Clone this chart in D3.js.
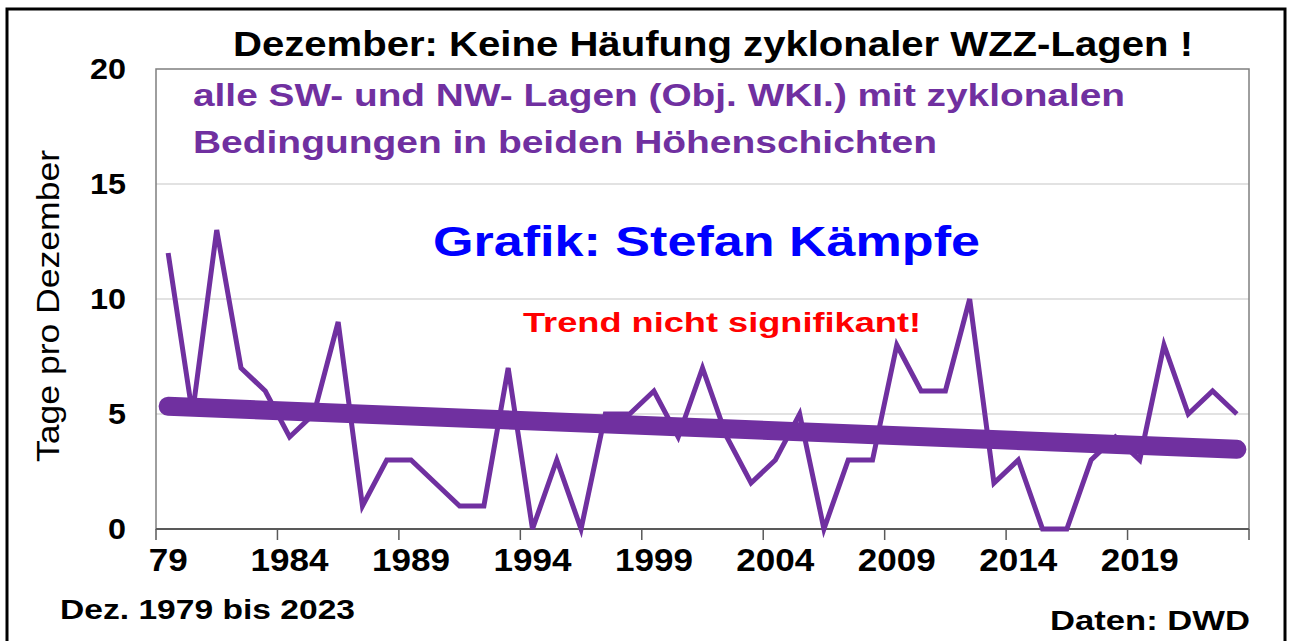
<!DOCTYPE html>
<html>
<head>
<meta charset="utf-8">
<script src="https://cdn.jsdelivr.net/npm/d3@7"></script>
<style>
  body { margin: 0; background: #fff; }
  text { font-family: "Liberation Sans", Arial, sans-serif; }
</style>
</head>
<body>
<div class="canvas"></div>
<script>
const WIDTH = 1290;
const HEIGHT = 641;
const margin = { top: 69, right: 41, bottom: 112, left: 156 };
const graphWidth = WIDTH - margin.left - margin.right;
const graphHeight = HEIGHT - margin.top - margin.bottom;

// data
const years = d3.range(1979, 2024);
const days = [12, 5, 13, 7, 6, 4, 5, 9, 1, 3,
              3, 2, 1, 1, 7, 0, 3, 0, 5, 5,
              6, 4, 7, 4, 2, 3, 5, 0, 3, 3,
              8, 6, 6, 10, 2, 3, 0, 0, 3, 4,
              3, 8, 5, 6, 5];
const tickYears = [1979, 1984, 1989, 1994, 1999, 2004, 2009, 2014, 2019];
const tickLabels = ['79', '1984', '1989', '1994', '1999', '2004', '2009', '2014', '2019'];
const yTicks = [0, 5, 10, 15, 20];

const data = years.map((yr, i) => ({ year: yr, value: days[i] }));

// colors
const purple = '#7030a0';
const gridGray = '#d9d9d9';
const axisGray = '#595959';

const svg = d3.select('.canvas')
  .append('svg')
    .attr('width', WIDTH)
    .attr('height', HEIGHT);

// helper for the (horizontally stretched) bold labels
const label = (sel, txt, opts) => {
  const t = sel.append('text')
    .attr('x', opts.x).attr('y', opts.y)
    .attr('font-size', opts.size)
    .attr('font-weight', opts.weight || 'bold')
    .attr('fill', opts.fill || '#000')
    .attr('text-anchor', opts.anchor || 'start')
    .text(txt);
  if (opts.len) t.attr('textLength', opts.len).attr('lengthAdjust', 'spacingAndGlyphs');
  return t;
};

// outer frame
svg.append('rect')
  .attr('x', 7).attr('y', 9)
  .attr('width', 1278).attr('height', HEIGHT)
  .attr('fill', 'none')
  .attr('stroke', '#000')
  .attr('stroke-width', 3);

const graph = svg.append('g')
  .attr('transform', `translate(${margin.left}, ${margin.top})`);

// scales
const x = d3.scaleBand()
  .domain(years)
  .range([0, graphWidth])
  .padding(0);

const y = d3.scaleLinear()
  .domain([0, 20])
  .range([graphHeight, 0]);

const cx = d => x(d) + x.bandwidth() / 2;

// gridlines
graph.append('g')
  .selectAll('line')
  .data(yTicks.filter(t => t > 0 && t < 20))
  .enter().append('line')
    .attr('x1', 0).attr('x2', graphWidth)
    .attr('y1', d => y(d)).attr('y2', d => y(d))
    .attr('stroke', gridGray)
    .attr('stroke-width', 1.5);

// plot frame
graph.append('rect')
  .attr('width', graphWidth)
  .attr('height', graphHeight)
  .attr('fill', 'none')
  .attr('stroke', '#7f7f7f')
  .attr('stroke-width', 1.5);

// x axis
const xAxisGroup = graph.append('g')
  .attr('transform', `translate(0, ${graphHeight})`);

xAxisGroup.append('line')
  .attr('x1', 0).attr('x2', graphWidth)
  .attr('stroke', axisGray).attr('stroke-width', 2);

const tickPos = tickYears.map(t => x(t)).concat([graphWidth]);
xAxisGroup.selectAll('.tick')
  .data(tickPos)
  .enter().append('line')
    .attr('x1', d => d).attr('x2', d => d)
    .attr('y1', 0).attr('y2', 11)
    .attr('stroke', axisGray).attr('stroke-width', 1.5);

tickYears.forEach((yr, i) => {
  label(xAxisGroup, tickLabels[i], {
    x: cx(yr), y: 42, size: 31, anchor: 'middle', len: 19.5 * tickLabels[i].length
  });
});

// y axis labels
yTicks.forEach(t => {
  label(graph, t, {
    x: -30, y: y(t) + 10, size: 29, anchor: 'end', len: 18 * String(t).length
  });
});

// data line
const line = d3.line()
  .x(d => cx(d.year))
  .y(d => y(d.value));

graph.append('path')
  .datum(data)
  .attr('fill', 'none')
  .attr('stroke', purple)
  .attr('stroke-width', 5)
  .attr('stroke-linejoin', 'miter')
  .attr('d', line);

// linear trend
const mx = d3.mean(data, d => d.year);
const my = d3.mean(data, d => d.value);
const slope = d3.sum(data, d => (d.year - mx) * (d.value - my)) /
              d3.sum(data, d => (d.year - mx) ** 2);
const trend = [years[0], years[years.length - 1]]
  .map(yr => ({ year: yr, value: my + slope * (yr - mx) }));

graph.append('path')
  .datum(trend)
  .attr('fill', 'none')
  .attr('stroke', purple)
  .attr('stroke-width', 19)
  .attr('stroke-linecap', 'round')
  .attr('d', line);

// texts
label(svg, 'Dezember: Keine Häufung zyklonaler WZZ-Lagen !',
  { x: 233, y: 56, size: 35, len: 960 });
label(svg, 'alle SW- und NW- Lagen (Obj. WKI.) mit zyklonalen',
  { x: 193, y: 106, size: 31, fill: purple, len: 932 });
label(svg, 'Bedingungen in beiden Höhenschichten',
  { x: 193, y: 153, size: 31, fill: purple, len: 744 });
label(svg, 'Grafik: Stefan Kämpfe',
  { x: 433, y: 256, size: 42, fill: '#0000ff', len: 547 });
label(svg, 'Trend nicht signifikant!',
  { x: 523, y: 332, size: 27, fill: '#ff0000', len: 398 });

svg.append('text')
  .attr('transform', 'translate(59, 306) rotate(-90)')
  .attr('text-anchor', 'middle')
  .attr('font-size', 32)
  .attr('textLength', 312)
  .attr('lengthAdjust', 'spacingAndGlyphs')
  .text('Tage pro Dezember');

label(svg, 'Dez. 1979 bis 2023', { x: 60, y: 619, size: 28, len: 295 });
label(svg, 'Daten: DWD', { x: 1050, y: 630, size: 27, len: 200 });
</script>
</body>
</html>
